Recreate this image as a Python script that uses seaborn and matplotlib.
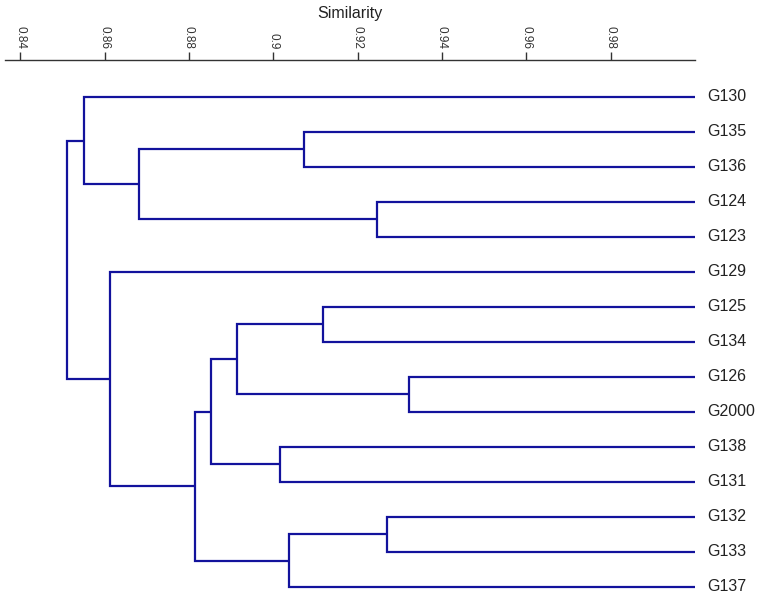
# Dendrogram of genotype similarity.

import numpy as np
import pandas as pd
import matplotlib
matplotlib.use('Agg')
import matplotlib.pyplot as plt
import seaborn as sns

# leaf labels, top to bottom
leaves = ['G130', 'G135', 'G136', 'G124', 'G123', 'G129', 'G125', 'G134',
          'G126', 'G2000', 'G138', 'G131', 'G132', 'G133', 'G137']

# merges: ids < 15 are leaves, ids >= 15 are earlier merges (15 + row number)
merge_left = [1, 3, 15, 0, 6, 8, 19, 10, 21, 12, 24, 23, 5, 18]
merge_right = [2, 4, 16, 17, 7, 9, 20, 11, 22, 13, 14, 25, 26, 27]
merge_sim = [0.9074, 0.9245, 0.8681, 0.8552, 0.9117, 0.9321, 0.8914,
             0.9017, 0.8852, 0.9269, 0.9038, 0.8814, 0.8612, 0.8512]

tick_values = [0.84, 0.86, 0.88, 0.90, 0.92, 0.94, 0.96, 0.98]
tick_labels = ['0.84', '0.86', '0.88', '0.9', '0.92', '0.94', '0.96', '0.98']

sns.set_style('white')
plt.rcParams['font.family'] = ['Liberation Sans', 'DejaVu Sans']

n = len(leaves)
node_y = {i: float(i) for i in range(n)}
node_x = {i: 1.0 for i in range(n)}  # leaves sit at similarity 1

line_color = '#12129c'

fig = plt.figure(figsize=(7.65, 6.01), dpi=100)
ax = fig.add_axes([5 / 765, 0, 690 / 765, 541 / 601])

for k, (a, b, h) in enumerate(zip(merge_left, merge_right, merge_sim)):
    ya, yb = node_y[a], node_y[b]
    seg = pd.DataFrame({'x': [node_x[a], h, h, node_x[b]],
                        'y': [ya, ya, yb, yb]})
    ax.plot(seg['x'], seg['y'], color=line_color, lw=1.6,
            solid_joinstyle='miter', solid_capstyle='butt')
    node_y[n + k] = (ya + yb) / 2
    node_x[n + k] = h

for i, lab in enumerate(leaves):
    ax.text(1.0028, i, lab, va='center', ha='left', fontsize=11.5, color='#222222')

ax.set_xlim(0.8364, 1.0)
ax.set_ylim(14.40, -1.057)
ax.set_yticks([])

ax.xaxis.set_ticks_position('top')
ax.xaxis.set_label_position('top')
ax.set_xticks(tick_values)
ax.set_xticklabels(tick_labels, rotation=270, fontsize=8.5, color='#333333')
ax.tick_params(axis='x', direction='out', length=6, width=1, color='#333333', pad=2)
ax.set_xlabel('Similarity', fontsize=11.5, labelpad=6, color='#222222')

for side in ['left', 'right', 'bottom']:
    ax.spines[side].set_visible(False)
ax.spines['top'].set_color('#333333')
ax.spines['top'].set_linewidth(1)

fig.savefig('out.png', dpi=100)
plt.close()
